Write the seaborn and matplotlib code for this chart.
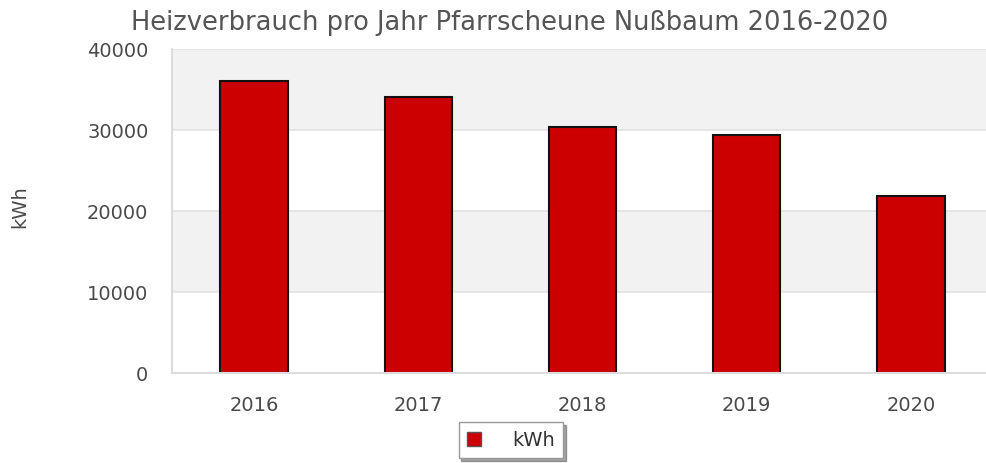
import pandas as pd
import matplotlib.pyplot as plt
import seaborn as sns
from matplotlib.patches import Patch

years = ['2016', '2017', '2018', '2019', '2020']
kwh = [36100, 34100, 30400, 29400, 21800]
y_ticks = [0, 10000, 20000, 30000, 40000]

df = pd.DataFrame({'Jahr': years, 'kWh': kwh})

sns.set_style('white')
plt.rcParams['font.family'] = ['DejaVu Sans']

fig = plt.figure(figsize=(9.86, 4.64), dpi=100)
ax = fig.add_axes([172 / 986, 1 - 374 / 464, 1 - 172 / 986, (374 - 50) / 464])

# alternating bands like the original chart
for lo, hi in [(10000, 20000), (30000, 40000)]:
    ax.axhspan(lo, hi, color='#f2f2f2', zorder=0, lw=0)
for t in y_ticks[1:]:
    ax.axhline(t, color='#e2e2e2', lw=1.2, zorder=0.5)

sns.barplot(data=df, x='Jahr', y='kWh', color='#cc0000', edgecolor='#111111',
            linewidth=1.5, width=0.41, saturation=1, ax=ax, zorder=2)

ax.set_ylim(0, 40000)
ax.set_xlim(-0.5, 4.457)
ax.set_yticks(y_ticks)
ax.set_yticklabels([str(t) for t in y_ticks])
ax.tick_params(axis='y', length=0, pad=17, labelsize=14, labelcolor='#4a4a4a')
ax.tick_params(axis='x', length=0, pad=16, labelsize=14, labelcolor='#4a4a4a')
ax.set_xlabel('')
ax.set_ylabel('')
for side in ['top', 'right']:
    ax.spines[side].set_visible(False)
for side in ['left', 'bottom']:
    ax.spines[side].set_color('#dcdcdc')
    ax.spines[side].set_linewidth(1.5)

fig.text(20 / 986, 1 - 207 / 464, 'kWh', rotation=90, ha='center', va='center',
         fontsize=14, color='#4a4a4a')
fig.text(510 / 986, 1 - 30 / 464, 'Heizverbrauch pro Jahr Pfarrscheune Nußbaum 2016-2020',
         ha='center', va='baseline', fontsize=18.5, color='#555555')

handles = [Patch(facecolor='#cc0000', edgecolor='#555555', label='kWh')]
leg = fig.legend(handles=handles, loc='center', bbox_to_anchor=(511 / 986, 1 - 441 / 464),
                 fontsize=14, frameon=True, fancybox=False, shadow=True,
                 handlelength=0.7, handleheight=0.7, borderpad=0.45, handletextpad=1.6,
                 borderaxespad=0)
leg.get_frame().set_edgecolor('#999999')
for txt in leg.get_texts():
    txt.set_color('#333333')

fig.savefig('out.png', dpi=100)
